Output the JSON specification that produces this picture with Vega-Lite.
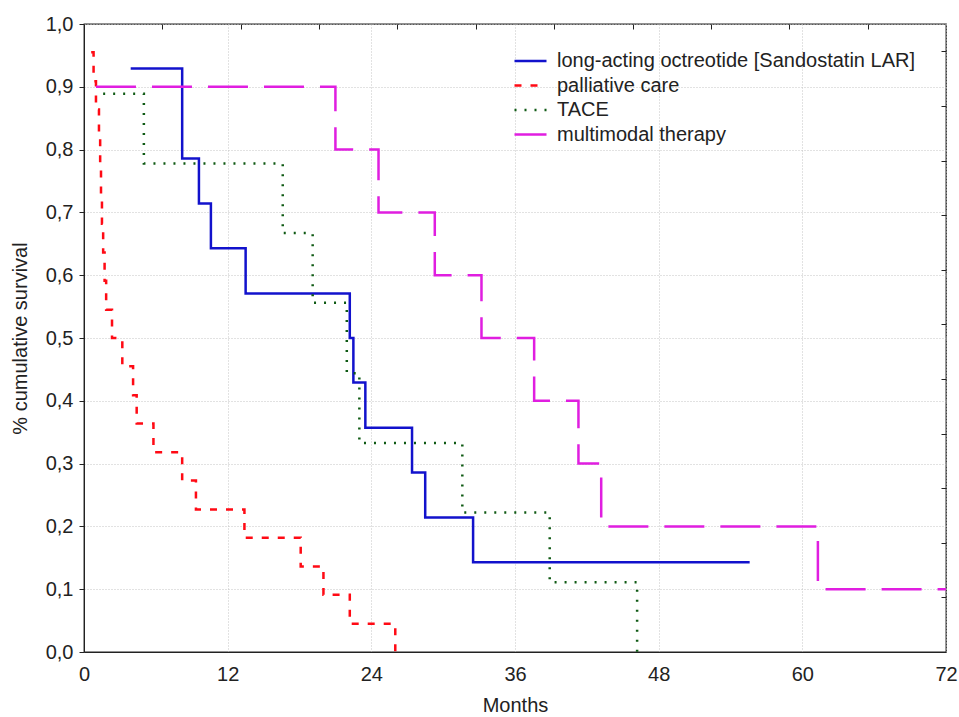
{
  "$schema": "https://vega.github.io/schema/vega-lite/v6.json",
  "width": 862,
  "height": 628,
  "autosize": {"type": "none"},
  "padding": {"left": 84, "top": 24, "right": 13, "bottom": 65},
  "background": "white",
  "config": {
    "font": "Liberation Sans",
    "view": {"stroke": "#222", "strokeWidth": 1.3},
    "axis": {
      "labelFont": "Liberation Sans",
      "titleFont": "Liberation Sans",
      "labelFontSize": 20,
      "titleFontSize": 20,
      "titleFontWeight": "normal",
      "labelColor": "#222",
      "titleColor": "#222",
      "domainColor": "#222",
      "tickColor": "#222",
      "gridColor": "#c4c4c4",
      "gridDash": [1, 2],
      "gridWidth": 1
    }
  },
  "data": {
    "values": [
      {"group": "long-acting octreotide [Sandostatin LAR]", "month": 3.9, "surv": 0.929},
      {"group": "long-acting octreotide [Sandostatin LAR]", "month": 8.2, "surv": 0.786},
      {"group": "long-acting octreotide [Sandostatin LAR]", "month": 9.6, "surv": 0.714},
      {"group": "long-acting octreotide [Sandostatin LAR]", "month": 10.6, "surv": 0.643},
      {"group": "long-acting octreotide [Sandostatin LAR]", "month": 13.5, "surv": 0.571},
      {"group": "long-acting octreotide [Sandostatin LAR]", "month": 22.2, "surv": 0.5},
      {"group": "long-acting octreotide [Sandostatin LAR]", "month": 22.5, "surv": 0.429},
      {"group": "long-acting octreotide [Sandostatin LAR]", "month": 23.5, "surv": 0.357},
      {"group": "long-acting octreotide [Sandostatin LAR]", "month": 27.4, "surv": 0.286},
      {"group": "long-acting octreotide [Sandostatin LAR]", "month": 28.5, "surv": 0.214},
      {"group": "long-acting octreotide [Sandostatin LAR]", "month": 32.5, "surv": 0.143},
      {"group": "long-acting octreotide [Sandostatin LAR]", "month": 55.6, "surv": 0.143},
      {"group": "palliative care", "month": 0.6, "surv": 0.955},
      {"group": "palliative care", "month": 0.8, "surv": 0.909},
      {"group": "palliative care", "month": 1.0, "surv": 0.864},
      {"group": "palliative care", "month": 1.25, "surv": 0.818},
      {"group": "palliative care", "month": 1.35, "surv": 0.773},
      {"group": "palliative care", "month": 1.42, "surv": 0.727},
      {"group": "palliative care", "month": 1.5, "surv": 0.682},
      {"group": "palliative care", "month": 1.6, "surv": 0.636},
      {"group": "palliative care", "month": 1.72, "surv": 0.591},
      {"group": "palliative care", "month": 1.85, "surv": 0.545},
      {"group": "palliative care", "month": 2.34, "surv": 0.5},
      {"group": "palliative care", "month": 3.2, "surv": 0.455},
      {"group": "palliative care", "month": 4.1, "surv": 0.409},
      {"group": "palliative care", "month": 4.4, "surv": 0.364},
      {"group": "palliative care", "month": 5.8, "surv": 0.318},
      {"group": "palliative care", "month": 8.2, "surv": 0.273},
      {"group": "palliative care", "month": 9.35, "surv": 0.227},
      {"group": "palliative care", "month": 13.4, "surv": 0.182},
      {"group": "palliative care", "month": 18.1, "surv": 0.136},
      {"group": "palliative care", "month": 20.0, "surv": 0.091},
      {"group": "palliative care", "month": 22.2, "surv": 0.045},
      {"group": "palliative care", "month": 26.0, "surv": 0.0},
      {"group": "TACE", "month": 1.6, "surv": 0.889},
      {"group": "TACE", "month": 5.0, "surv": 0.778},
      {"group": "TACE", "month": 16.6, "surv": 0.667},
      {"group": "TACE", "month": 19.1, "surv": 0.556},
      {"group": "TACE", "month": 21.95, "surv": 0.444},
      {"group": "TACE", "month": 23.0, "surv": 0.333},
      {"group": "TACE", "month": 31.6, "surv": 0.222},
      {"group": "TACE", "month": 38.9, "surv": 0.111},
      {"group": "TACE", "month": 46.2, "surv": 0.0},
      {"group": "multimodal therapy", "month": 1.0, "surv": 0.9},
      {"group": "multimodal therapy", "month": 21.0, "surv": 0.8},
      {"group": "multimodal therapy", "month": 24.6, "surv": 0.7},
      {"group": "multimodal therapy", "month": 29.3, "surv": 0.6},
      {"group": "multimodal therapy", "month": 33.2, "surv": 0.5},
      {"group": "multimodal therapy", "month": 37.6, "surv": 0.4},
      {"group": "multimodal therapy", "month": 41.3, "surv": 0.3},
      {"group": "multimodal therapy", "month": 43.2, "surv": 0.2},
      {"group": "multimodal therapy", "month": 61.3, "surv": 0.1},
      {"group": "multimodal therapy", "month": 72.0, "surv": 0.1}
    ]
  },
  "layer": [
    {
      "mark": {"type": "line", "interpolate": "step-after", "strokeWidth": 2.5, "clip": true},
      "encoding": {
        "x": {
          "field": "month", "type": "quantitative",
          "scale": {"domain": [0, 72], "nice": false, "zero": false},
          "axis": {
            "values": [0, 12, 24, 36, 48, 60, 72],
            "title": "Months",
            "ticks": false,
            "labelPadding": 12,
            "titlePadding": 11,
            "labelOverlap": false,
            "labelBound": false,
            "labelFlush": false,
            "grid": true
          }
        },
        "y": {
          "field": "surv", "type": "quantitative",
          "scale": {"domain": [0, 1], "nice": false},
          "axis": {
            "values": [0, 0.1, 0.2, 0.3, 0.4, 0.5, 0.6, 0.7, 0.8, 0.9, 1.0],
            "labelExpr": "replace(format(datum.value, '.1f'), '.', ',')",
            "title": "% cumulative survival",
            "tickSize": 5,
            "labelPadding": 6,
            "titlePadding": 15,
            "labelOverlap": false,
            "labelBound": false,
            "labelFlush": false,
            "grid": true
          }
        },
        "color": {
          "field": "group", "type": "nominal",
          "scale": {
            "domain": ["long-acting octreotide [Sandostatin LAR]", "palliative care", "TACE", "multimodal therapy"],
            "range": ["#1212cc", "#ff0a14", "#0f5a14", "#e01ee0"]
          },
          "legend": {
            "title": null,
            "orient": "none",
            "legendX": 429,
            "legendY": 27,
            "symbolType": "stroke",
            "symbolSize": 1024,
            "symbolStrokeWidth": 2.5,
            "clipHeight": 20,
            "rowPadding": 4.5,
            "labelOffset": 9,
            "labelFontSize": 20,
            "labelFont": "Liberation Sans",
            "labelColor": "#222",
            "labelLimit": 500
          }
        },
        "strokeDash": {
          "field": "group", "type": "nominal",
          "scale": {
            "domain": ["long-acting octreotide [Sandostatin LAR]", "palliative care", "TACE", "multimodal therapy"],
            "range": [[1, 0], [7, 9], [2, 8], [40, 16]]
          },
          "legend": {
            "title": null,
            "orient": "none",
            "legendX": 429,
            "legendY": 27,
            "symbolType": "stroke",
            "symbolSize": 1024,
            "symbolStrokeWidth": 2.5,
            "clipHeight": 20,
            "rowPadding": 4.5,
            "labelOffset": 9,
            "labelFontSize": 20,
            "labelFont": "Liberation Sans",
            "labelColor": "#222",
            "labelLimit": 500
          }
        }
      }
    },
    {
      "mark": {"type": "point", "opacity": 0},
      "encoding": {
        "x": {
          "datum": 0, "type": "quantitative",
          "scale": {"domain": [0, 11], "nice": false},
          "axis": {"orient": "top", "values": [1, 2, 3, 4, 5, 6, 7, 8, 9, 10], "labels": false, "title": null, "domain": false, "grid": false, "tickSize": -5}
        },
        "y": {
          "datum": 0, "type": "quantitative",
          "scale": {"domain": [0, 11.5], "nice": false},
          "axis": {"orient": "right", "values": [1, 2, 3, 4, 5, 6, 7, 8, 9, 10, 11], "labels": false, "title": null, "domain": false, "grid": false, "tickSize": -5}
        }
      }
    }
  ],
  "resolve": {"scale": {"x": "independent", "y": "independent"}}
}
